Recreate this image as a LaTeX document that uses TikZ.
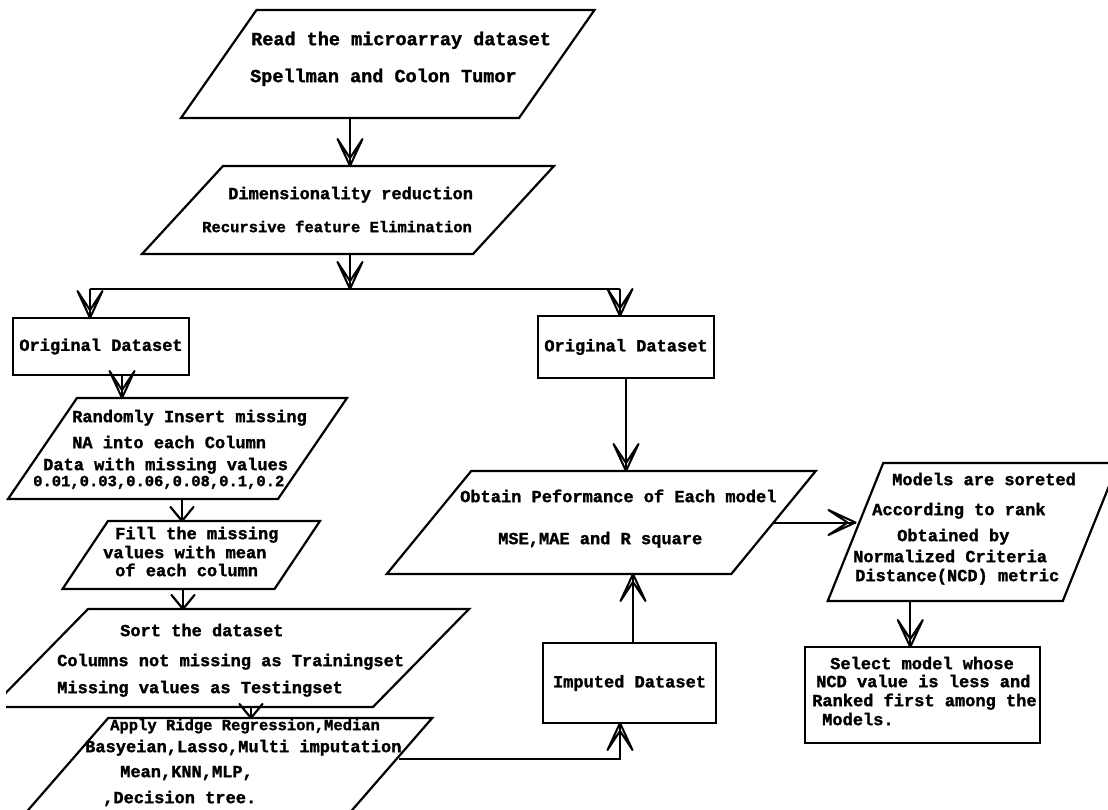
\documentclass[tikz,border=0pt]{standalone}
\usepackage{fontspec}
\setmonofont{Liberation Mono}[BoldFeatures={FakeBold=1.5}]
\begin{document}
\begin{tikzpicture}[x=1pt,y=-1pt,
  para/.style n args={3}{draw, line width=2.2pt, rectangle, inner sep=0pt, outer sep=0pt,
    minimum width=#1pt, minimum height=#2pt, xslant=#3, transform shape},
  box/.style n args={2}{draw, line width=2.2pt, rectangle, inner sep=0pt, outer sep=0pt,
    minimum width=#1pt, minimum height=#2pt, font=\ttfamily\bfseries\fontsize{17}{18}\selectfont},
  t/.style={inner sep=0pt, anchor=mid west, font=\ttfamily\bfseries\fontsize{17}{18}\selectfont},
  ts/.style={t, font=\ttfamily\bfseries\fontsize{15.5}{16}\selectfont},
  tl/.style={t, font=\ttfamily\bfseries\fontsize{18.5}{19}\selectfont},
  con/.style={line width=2pt},
  pics/ahd/.style={code={\draw[line width=2pt, line join=round, line cap=round]
      (0,0) -- (-12.5,-27) -- (0,-8) -- (12.5,-27) -- cycle;}},
  pics/vhd/.style={code={\draw[line width=2.2pt, line join=round, line cap=round]
      (-11.5,-14) -- (0,0) -- (11.5,-14);}}]
\fill[white] (0,0) rectangle (1108,810);
\useasboundingbox (0,0) rectangle (1108,810);
\clip (6,0) rectangle (1108,810);

% shapes
\node[para={338}{108}{0.699}] (p1) at (387.75,64) {};
\node[para={331}{88}{0.920}] (p2) at (348,210) {};
\node[box={176}{57}] (o1) at (101,346.5) {Original Dataset};
\node[box={176}{62}] (o2) at (626,347) {Original Dataset};
\node[para={270}{101}{0.683}] (p3) at (177.5,448.5) {};
\node[para={212}{68}{0.669}] (p4) at (191.25,555) {};
\node[para={381}{98}{0.980}] (p5) at (230.5,658) {};
\node[para={324}{112}{0.870}] (p6) at (221.5,774) {};
\node[para={344.5}{103}{0.820}] (p7) at (601.25,522.5) {};
\node[para={235}{138}{0.402}] (p8) at (973,532) {};
\node[box={173}{80}] (imp) at (629.5,683) {Imputed Dataset};
\node[box={235}{96}] (fin) at (922.5,695) {};

% texts
\node[tl] (t1a) at (251,43) {Read the microarray dataset};
\node[tl] (t1b) at (250,80) {Spellman and Colon Tumor};
\node[t]  (t2a) at (228,197) {Dimensionality reduction};
\node[ts] (t2b) at (202,230) {Recursive feature Elimination};
\node[t]  (t3a) at (72,420) {Randomly Insert missing};
\node[t]  (t3b) at (72,446) {NA into each Column};
\node[t]  (t3c) at (43,468) {Data with missing values};
\node[ts] (t3d) at (33,484) {0.01,0.03,0.06,0.08,0.1,0.2};
\node[t]  (t4a) at (115,537) {Fill the missing};
\node[t]  (t4b) at (103,556) {values with mean};
\node[t]  (t4c) at (115,574) {of each column};
\node[t]  (t5a) at (120,634) {Sort the dataset};
\node[t]  (t5b) at (57,664) {Columns not missing as Trainingset};
\node[t]  (t5c) at (57,691) {Missing values as Testingset};
\node[ts] (t6a) at (110,728) {Apply Ridge Regression,Median};
\node[t]  (t6b) at (85,750) {Basyeian,Lasso,Multi imputation};
\node[t]  (t6c) at (120,775) {Mean,KNN,MLP,};
\node[t]  (t6d) at (103,801) {,Decision tree.};
\node[t]  (t7a) at (460,500) {Obtain Peformance of Each model};
\node[t]  (t7b) at (498,542) {MSE,MAE and R square};
\node[t]  (t8a) at (892,483) {Models are soreted};
\node[t]  (t8b) at (872,513) {According to rank};
\node[t]  (t8c) at (897,539) {Obtained by};
\node[t]  (t8d) at (853,560) {Normalized Criteria};
\node[t]  (t8e) at (855,579) {Distance(NCD) metric};
\node[t]  (t9a) at (830,667) {Select model whose};
\node[t]  (t9b) at (816,685) {NCD value is less and};
\node[t]  (t9c) at (812,704) {Ranked first among the};
\node[t]  (t9d) at (822,723) {Models.};

% connectors
\coordinate (j) at (350,289);
\coordinate (jl) at (90,289);
\coordinate (jr) at (620,289);
\coordinate (p6r) at (399,759);
\draw[con] (p1.south) -- (p1.south |- p2.north) pic{ahd};
\draw[con] (p2.south -| j) -- (j) pic{ahd};
\draw[con] (jl) -- (jr);
\draw[con] (jl) -- (jl |- o1.north) pic{ahd};
\draw[con] (jr) -- (jr |- o2.north) pic{ahd};
\draw[con] ([xshift=21pt]o1.south) -- ([xshift=21pt]o1.south |- p3.north) pic{ahd};
\draw[con] ([xshift=39pt]p3.south) -- ([xshift=39pt]p3.south |- p4.north) pic{vhd};
\draw[con] ([xshift=14.5pt]p4.south) -- ([xshift=14.5pt]p4.south |- p5.north) pic{vhd};
\draw[con] ([xshift=68.5pt]p5.south) -- ([xshift=68.5pt]p5.south |- p6.north) pic{vhd};
\draw[con] (p6r) -| ([xshift=-9.5pt]imp.south) pic[rotate=180]{ahd};
\draw[con] (o2.south) -- (o2.south |- p7.north) pic{ahd};
\draw[con] ([xshift=3.5pt]imp.north) -- ([xshift=3.5pt]imp.north |- p7.south) pic[rotate=180]{ahd};
\draw[con] (p7.east) -- (p7.east -| p8.west) pic[rotate=90]{ahd};
\draw[con] ([xshift=-35pt]p8.south) -- ([xshift=-35pt]p8.south |- fin.north) pic{ahd};
\end{tikzpicture}
\end{document}
